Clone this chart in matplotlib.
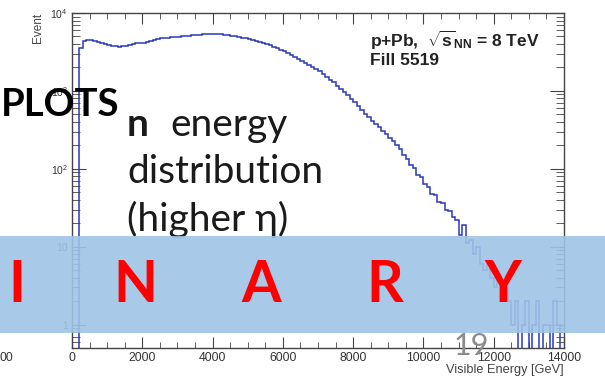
import numpy as np
import matplotlib
matplotlib.use("Agg")
import matplotlib.pyplot as plt
from matplotlib.patches import Rectangle
from matplotlib.ticker import FixedLocator, MultipleLocator, LogLocator, NullFormatter

# Histogram: visible energy, 100 GeV bins from 0 to 14000 GeV
bin_edges = np.arange(0, 14001, 100)
event_counts = [
    0, 0, 3600, 4350, 4550, 4500, 4400, 4270, 4130, 3990,
    3900, 3800, 3720, 3700, 3740, 3820, 3920, 3990, 4060, 4120,
    4180, 4290, 4390, 4500, 4620, 4730, 4760, 4800, 4850, 4900,
    4950, 5000, 5050, 5110, 5170, 5220, 5270, 5320, 5360, 5380,
    5380, 5380, 5350, 5270, 5160, 5090, 5000, 4900, 4810, 4710,
    4610, 4490, 4365, 4240, 4110, 3990, 3830, 3665, 3515, 3365,
    3210, 3050, 2890, 2740, 2600, 2455, 2305, 2165, 2035, 1915,
    1775, 1640, 1515, 1400, 1290, 1172, 1065, 968, 880, 796,
    711, 637, 569, 507, 459, 416, 377, 341, 308, 277,
    249, 224, 201, 178, 150, 135, 112, 102, 84, 78,
    63, 58, 47, 46, 38, 36, 30, 29, 24, 22,
    14, 19, 11, 12, 8, 10, 6, 5, 6, 4,
    3, 4, 2, 3, 2, 1, 2, 0, 1, 2,
    0, 1, 2, 0, 1, 1, 0, 2, 1, 0,
]

x_major = [0, 2000, 4000, 6000, 8000, 10000, 12000, 14000]
x_labels = ["0", "2000", "4000", "6000", "8000", "10000", "12000", "14000"]
y_major = [1, 10, 100, 1000, 10000]
y_labels = ["1", "10", "$10^{2}$", "$10^{3}$", "$10^{4}$"]

plt.rcParams["mathtext.fontset"] = "custom"
plt.rcParams["mathtext.rm"] = "Liberation Sans"
plt.rcParams["mathtext.bf"] = "Liberation Sans:bold"
plt.rcParams["mathtext.it"] = "Liberation Sans:bold"

W, H = 605, 380
fig = plt.figure(figsize=(W / 100, H / 100), dpi=100)
fig.patch.set_facecolor("white")

# ROOT-like frame
ax = fig.add_axes([72 / W, 1 - 348 / H, (564 - 72) / W, (348 - 13) / H])
counts = np.array(event_counts, dtype=float)
draw_counts = np.where(counts > 0, counts, 1e-3)
ax.stairs(draw_counts, bin_edges, color="#2a38bb", lw=1.1, baseline=None)

ax.set_yscale("log")
ax.set_xlim(0, 14000)
ax.set_ylim(0.5, 1.0e4)

ax.xaxis.set_major_locator(FixedLocator(x_major))
ax.set_xticklabels(x_labels)
ax.xaxis.set_minor_locator(MultipleLocator(500))
ax.yaxis.set_major_locator(FixedLocator(y_major))
ax.set_yticklabels(y_labels)
ax.yaxis.set_minor_locator(LogLocator(base=10, subs=np.arange(2, 10)))
ax.yaxis.set_minor_formatter(NullFormatter())

ax.tick_params(which="both", direction="in", top=True, right=True, colors="#444444")
ax.tick_params(axis="x", which="major", length=8, labelsize=8.8, pad=3, labelcolor="#333333")
ax.tick_params(axis="x", which="minor", length=4)
ax.tick_params(axis="y", which="major", length=10, labelsize=7.5, pad=3, labelcolor="#333333")
ax.tick_params(axis="y", which="minor", length=6)
for lab in ax.get_xticklabels() + ax.get_yticklabels():
    lab.set_family("Liberation Sans")
for sp in ax.spines.values():
    sp.set_color("#444444")
    sp.set_linewidth(1.0)

ax.text(-0.069, 1.0, "Event", rotation=90, ha="center", va="top", fontsize=8.5,
        family="Liberation Sans", color="#444444", transform=ax.transAxes)
ax.text(1.0, -0.066, "Visible Energy [GeV]", ha="right", va="center", fontsize=9.2,
        family="Liberation Sans", color="#444444", transform=ax.transAxes)
ax.text(0.605, 0.919, r"p+Pb,  $\sqrt{\mathbf{s}}_{\mathbf{NN}}$ = 8 TeV", ha="left", va="center",
        fontsize=12.5, fontweight="bold", family="Liberation Sans", color="#222222",
        transform=ax.transAxes)
ax.text(0.605, 0.857, "Fill 5519", ha="left", va="center", fontsize=12.5, fontweight="bold",
        family="Liberation Sans", color="#222222", transform=ax.transAxes)

# slide overlay texts
def fx(px):
    return px / W

def fy(py):
    return 1 - py / H

fig.text(fx(0), fy(358), "00", ha="left", va="center", fontsize=8.8,
         family="Liberation Sans", color="#333333")
fig.text(fx(119), fy(105), "PLOTS", ha="right", va="center", fontsize=27.5,
         fontweight="bold", family="Lato", color="black", zorder=3)
fig.text(fx(127), fy(125), "n", ha="left", va="center", fontsize=28,
         fontweight="bold", family="Lato", color="#1a1a1a", zorder=3)
fig.text(fx(170), fy(125), "energy", ha="left", va="center", fontsize=28,
         family="Lato", color="#1a1a1a", zorder=3)
fig.text(fx(127), fy(172), "distribution", ha="left", va="center", fontsize=28,
         family="Lato", color="#1a1a1a", zorder=3)
fig.text(fx(127), fy(219), "(higher η)", ha="left", va="center", fontsize=28,
         family=["Lato", "DejaVu Sans"], color="#1a1a1a", zorder=3)
fig.text(fx(471), fy(346), "19", ha="center", va="center", fontsize=22,
         family="Lato", color="#8c8c8c", zorder=3)

band = Rectangle((0, fy(333)), 1, (333 - 236) / H, transform=fig.transFigure,
                 facecolor="#9fc3e6", edgecolor="none", alpha=0.9, zorder=4)
fig.patches.append(band)

letters = ["I", "N", "A", "R", "Y"]
letter_x = [17, 135, 261, 385, 503]
for ch, px in zip(letters, letter_x):
    fig.text(fx(px), fy(286), ch, ha="center", va="center", fontsize=41,
             fontweight="bold", family="Lato", color="#ff0000", zorder=5)

fig.savefig("out.png", dpi=100)
